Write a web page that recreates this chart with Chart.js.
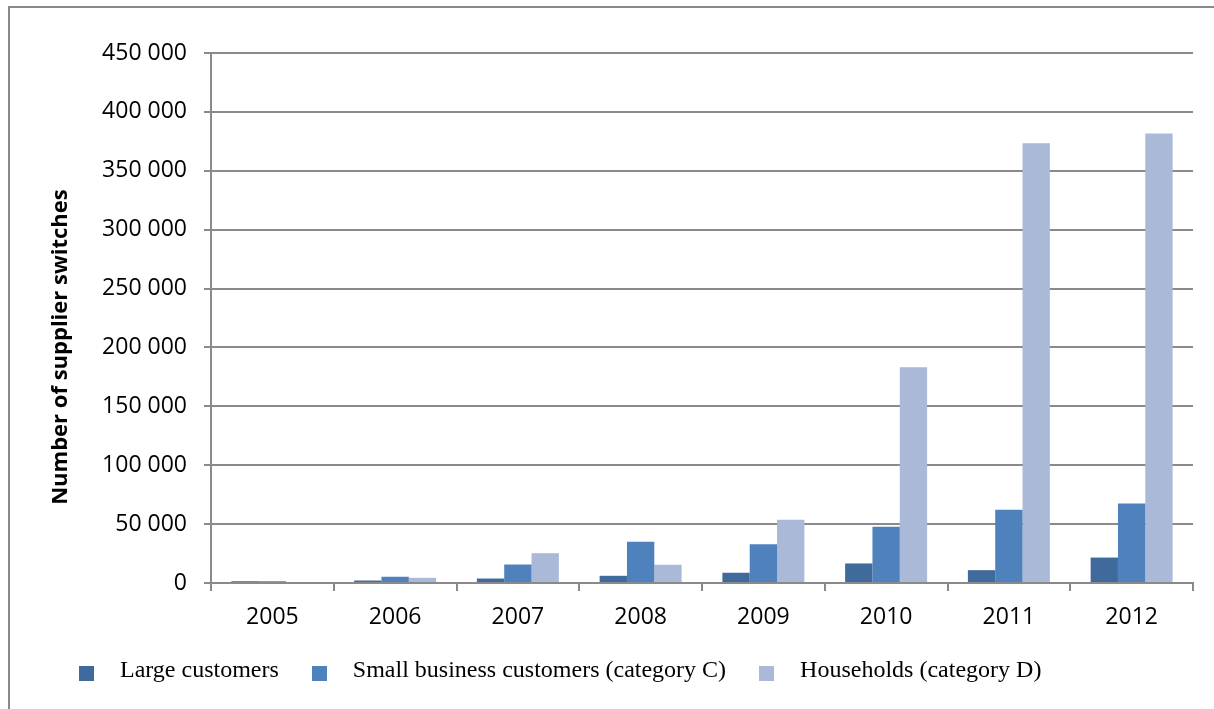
<!DOCTYPE html>
<html>
<head>
<meta charset="utf-8">
<script src="https://cdn.jsdelivr.net/npm/chart.js@4/dist/chart.umd.min.js"></script>
<style>
    body { margin: 0; background: #fff; }
    #wrap { position: relative; width: 1214px; height: 709px; overflow: hidden; }
    #frame {
        position: absolute; left: 8px; top: 6px; width: 1300px; height: 800px;
        border-left: 2px solid #8a8a8a; border-top: 2px solid #8a8a8a;
    }
    #switchChart { position: absolute; left: 0; top: 0; }
    #legend {
        position: absolute; left: 79px; top: 657px;
        display: flex; align-items: flex-start;
        font-family: "Liberation Serif", "Times New Roman", serif;
        font-size: 24px; line-height: 24px; color: #000; white-space: nowrap;
    }
    .legend-item { display: flex; align-items: flex-start; margin-right: 33px; }
    .legend-box { width: 15px; height: 15px; margin-top: 9px; margin-right: 26px; }
</style>
</head>
<body>
<div id="wrap">
    <div id="frame"></div>
    <canvas id="switchChart" width="1214" height="709"></canvas>
    <div id="legend"></div>
</div>
<script>
    const years = ['2005', '2006', '2007', '2008', '2009', '2010', '2011', '2012'];
    const largeCustomers = [1500, 2100, 3800, 6100, 8700, 16600, 10900, 21600];
    const smallBusiness = [1500, 5300, 15700, 35000, 32900, 47700, 62100, 67500];
    const households = [0, 4400, 25300, 15500, 53700, 183200, 373400, 381600];

    const seriesNames = ['Large customers', 'Small business customers (category C)', 'Households (category D)'];
    const seriesColors = ['#40699c', '#4f81bd', '#a9b9d7'];

    const axisTitle = 'Number of supplier switches';

    function formatThousands(value) {
        return value.toString().replace(/\B(?=(\d{3})+(?!\d))/g, ' ');
    }

    // y axis title drawn by hand so it can sit a bit lower than the plot centre
    const yTitlePlugin = {
        id: 'yTitle',
        afterDraw(chart) {
            const ctx = chart.ctx;
            ctx.save();
            ctx.translate(61, 347);
            ctx.rotate(-Math.PI / 2);
            ctx.font = 'bold 22px "Open Sans"';
            ctx.fillStyle = '#000';
            ctx.textAlign = 'center';
            ctx.textBaseline = 'middle';
            ctx.fillText(axisTitle, 0, 0);
            ctx.restore();
        }
    };

    function buildLegend(chart) {
        const legend = document.getElementById('legend');
        legend.innerHTML = '';
        chart.data.datasets.forEach(ds => {
            const item = document.createElement('div');
            item.className = 'legend-item';
            const box = document.createElement('span');
            box.className = 'legend-box';
            box.style.background = ds.backgroundColor;
            const label = document.createElement('span');
            label.textContent = ds.label;
            item.appendChild(box);
            item.appendChild(label);
            legend.appendChild(item);
        });
    }

    function createChart() {
        const ctx = document.getElementById('switchChart').getContext('2d');
        const seriesData = [largeCustomers, smallBusiness, households];

        const chart = new Chart(ctx, {
            type: 'bar',
            data: {
                labels: years,
                datasets: seriesData.map((data, i) => ({
                    label: seriesNames[i],
                    data: data,
                    backgroundColor: seriesColors[i],
                    borderWidth: 0,
                    categoryPercentage: 0.668,
                    barPercentage: 1.0
                }))
            },
            options: {
                responsive: false,
                animation: false,
                devicePixelRatio: 1,
                layout: { padding: { top: 53, right: 21, bottom: 0, left: 0 } },
                plugins: {
                    legend: { display: false },
                    tooltip: { enabled: false }
                },
                scales: {
                    x: {
                        grid: {
                            display: true,
                            drawOnChartArea: false,
                            drawTicks: true,
                            tickLength: 8,
                            color: '#8a8a8a',
                            lineWidth: 2
                        },
                        border: { display: true, color: '#8a8a8a', width: 2 },
                        ticks: {
                            color: '#000',
                            padding: 13,
                            font: { family: '"Open Sans"', size: 23 },
                            maxRotation: 0
                        },
                        afterFit(scale) { scale.height = 126; }
                    },
                    y: {
                        min: 0,
                        max: 450000,
                        grid: {
                            color: '#8a8a8a',
                            lineWidth: 2,
                            tickLength: 7
                        },
                        border: { display: true, color: '#8a8a8a', width: 2 },
                        ticks: {
                            stepSize: 50000,
                            color: '#000',
                            padding: 17,
                            font: { family: '"Open Sans"', size: 23 },
                            callback: value => formatThousands(value)
                        },
                        afterFit(scale) { scale.width = 211; }
                    }
                }
            },
            plugins: [yTitlePlugin]
        });

        buildLegend(chart);
    }

    document.addEventListener('DOMContentLoaded', createChart);
</script>
</body>
</html>
